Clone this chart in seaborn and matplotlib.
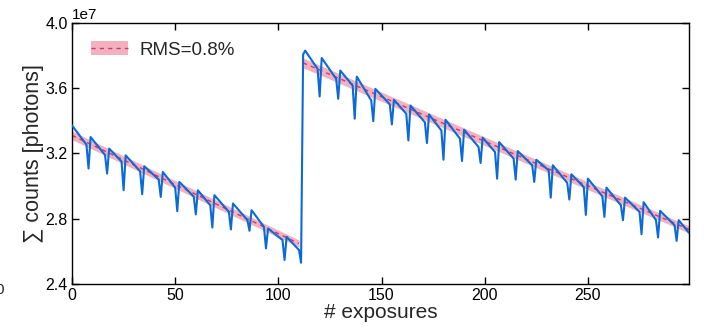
import numpy as np
import pandas as pd
import matplotlib
matplotlib.use("Agg")
import matplotlib.pyplot as plt
from matplotlib.patches import Patch
from matplotlib.lines import Line2D
import seaborn as sns

# Exposure index of each dip in the summed counts (one per readout cycle)
dip_exposure = [8, 17, 25, 34, 43, 51, 60, 68, 77, 86, 94, 103, 111,
                120, 129, 137, 146, 155, 163, 172, 180, 189, 198, 206,
                215, 224, 232, 241, 249, 258, 267, 276, 284, 293]
# Counts (1e7 photons) one exposure before the dip, at the dip, and one after
pre_dip_counts = [3.253, 3.190, 3.150, 3.090, 3.040, 2.990, 2.935, 2.882,
                  2.842, 2.791, 2.750, 2.669, 2.608,
                  3.717, 3.656, 3.615, 3.524, 3.500, 3.442, 3.390, 3.340,
                  3.290, 3.239, 3.208, 3.168, 3.127, 3.096, 3.019, 2.994,
                  2.937, 2.882, 2.842, 2.791, 2.760]
dip_counts = [3.107, 3.076, 2.974, 2.950, 2.933, 2.846, 2.826, 2.746,
              2.734, 2.726, 2.618, 2.547, 2.530,
              3.548, 3.534, 3.412, 3.397, 3.377, 3.279, 3.263, 3.161,
              3.153, 3.141, 3.045, 3.039, 3.025, 2.929, 2.917, 2.823,
              2.811, 2.791, 2.705, 2.685, 2.664]
post_dip_counts = [3.300, 3.229, 3.188, 3.121, 3.086, 3.025, 2.974, 2.944,
                   2.893, 2.852, 2.740, 2.689, 3.805,
                   3.784, 3.707, 3.670, 3.595, 3.528, 3.493, 3.438, 3.406,
                   3.345, 3.296, 3.269, 3.214, 3.161, 3.127, 3.072, 3.045,
                   2.990, 2.929, 2.901, 2.848, 2.791]
# Remaining vertices: first exposure, top of the jump, last exposure
extra_exposure = [0, 113, 299]
extra_counts = [3.371, 3.829, 2.713]

# Linear model of the two observing blocks (endpoints)
model_exposure_a = [0, 110]
model_counts_a = [3.310, 2.648]
model_exposure_b = [112, 299]
model_counts_b = [3.754, 2.734]
rms = 0.008

scale = 1e7

# Assemble the measured curve from its vertices
xs, ys = list(extra_exposure), list(extra_counts)
for d, p, m, q in zip(dip_exposure, pre_dip_counts, dip_counts, post_dip_counts):
    xs += [d - 1, d, d + 1]
    ys += [p, m, q]
measured = pd.DataFrame({"exposure": xs, "counts": np.array(ys) * scale})
measured = measured.sort_values("exposure").reset_index(drop=True)

sns.set_style("ticks")
plt.rcParams["font.family"] = ["Liberation Sans", "DejaVu Sans"]
plt.rcParams["axes.linewidth"] = 1.0

fig = plt.figure(figsize=(7.04, 3.27), dpi=100)
ax = fig.add_axes([0.1023, 0.1315, 0.8764, 0.7991])

band_color = "#f3b1c0"
model_color = "#d8336a"
data_color = "#0a6ad8"

for mx, my in [(model_exposure_a, model_counts_a), (model_exposure_b, model_counts_b)]:
    mx = np.array(mx, dtype=float)
    my = np.array(my) * scale
    ax.fill_between(mx, my * (1 - rms), my * (1 + rms), color=band_color,
                    linewidth=0, zorder=1)
    sns.lineplot(x=mx, y=my, ax=ax, color=model_color, linestyle=(0, (3, 3)),
                 linewidth=1.0, zorder=2, legend=False)

sns.lineplot(data=measured, x="exposure", y="counts", ax=ax, sort=False,
             estimator=None, color=data_color, linewidth=1.5, zorder=3,
             legend=False)

ax.set_xlim(0, 299)
ax.set_ylim(2.4e7, 4.0e7)
ax.set_xticks([0, 50, 100, 150, 200, 250])
ax.set_yticks([2.4e7, 2.8e7, 3.2e7, 3.6e7, 4.0e7])
ax.ticklabel_format(axis="y", style="sci", scilimits=(0, 0), useMathText=False)
ax.tick_params(direction="in", top=True, right=True, length=5, width=1,
               labelsize=11.5, colors="black", pad=3)
ax.yaxis.get_offset_text().set_fontsize(11)
for s in ax.spines.values():
    s.set_color("black")

ax.set_xlabel("# exposures", fontsize=15, labelpad=0)
ax.set_ylabel("∑ counts [photons]", fontsize=15.5, labelpad=1)

handle = (Patch(facecolor=band_color, edgecolor="none"),
          Line2D([], [], color=model_color, linestyle=(0, (3, 3)), linewidth=1.0))
ax.legend([handle], ["RMS=0.8%"], loc="upper left", frameon=False,
          fontsize=13.5, borderaxespad=0.6, handletextpad=0.6)

fig.text(-0.006, 0.113, "0", fontsize=11, ha="left", va="center")

fig.savefig("out.png", dpi=100)
